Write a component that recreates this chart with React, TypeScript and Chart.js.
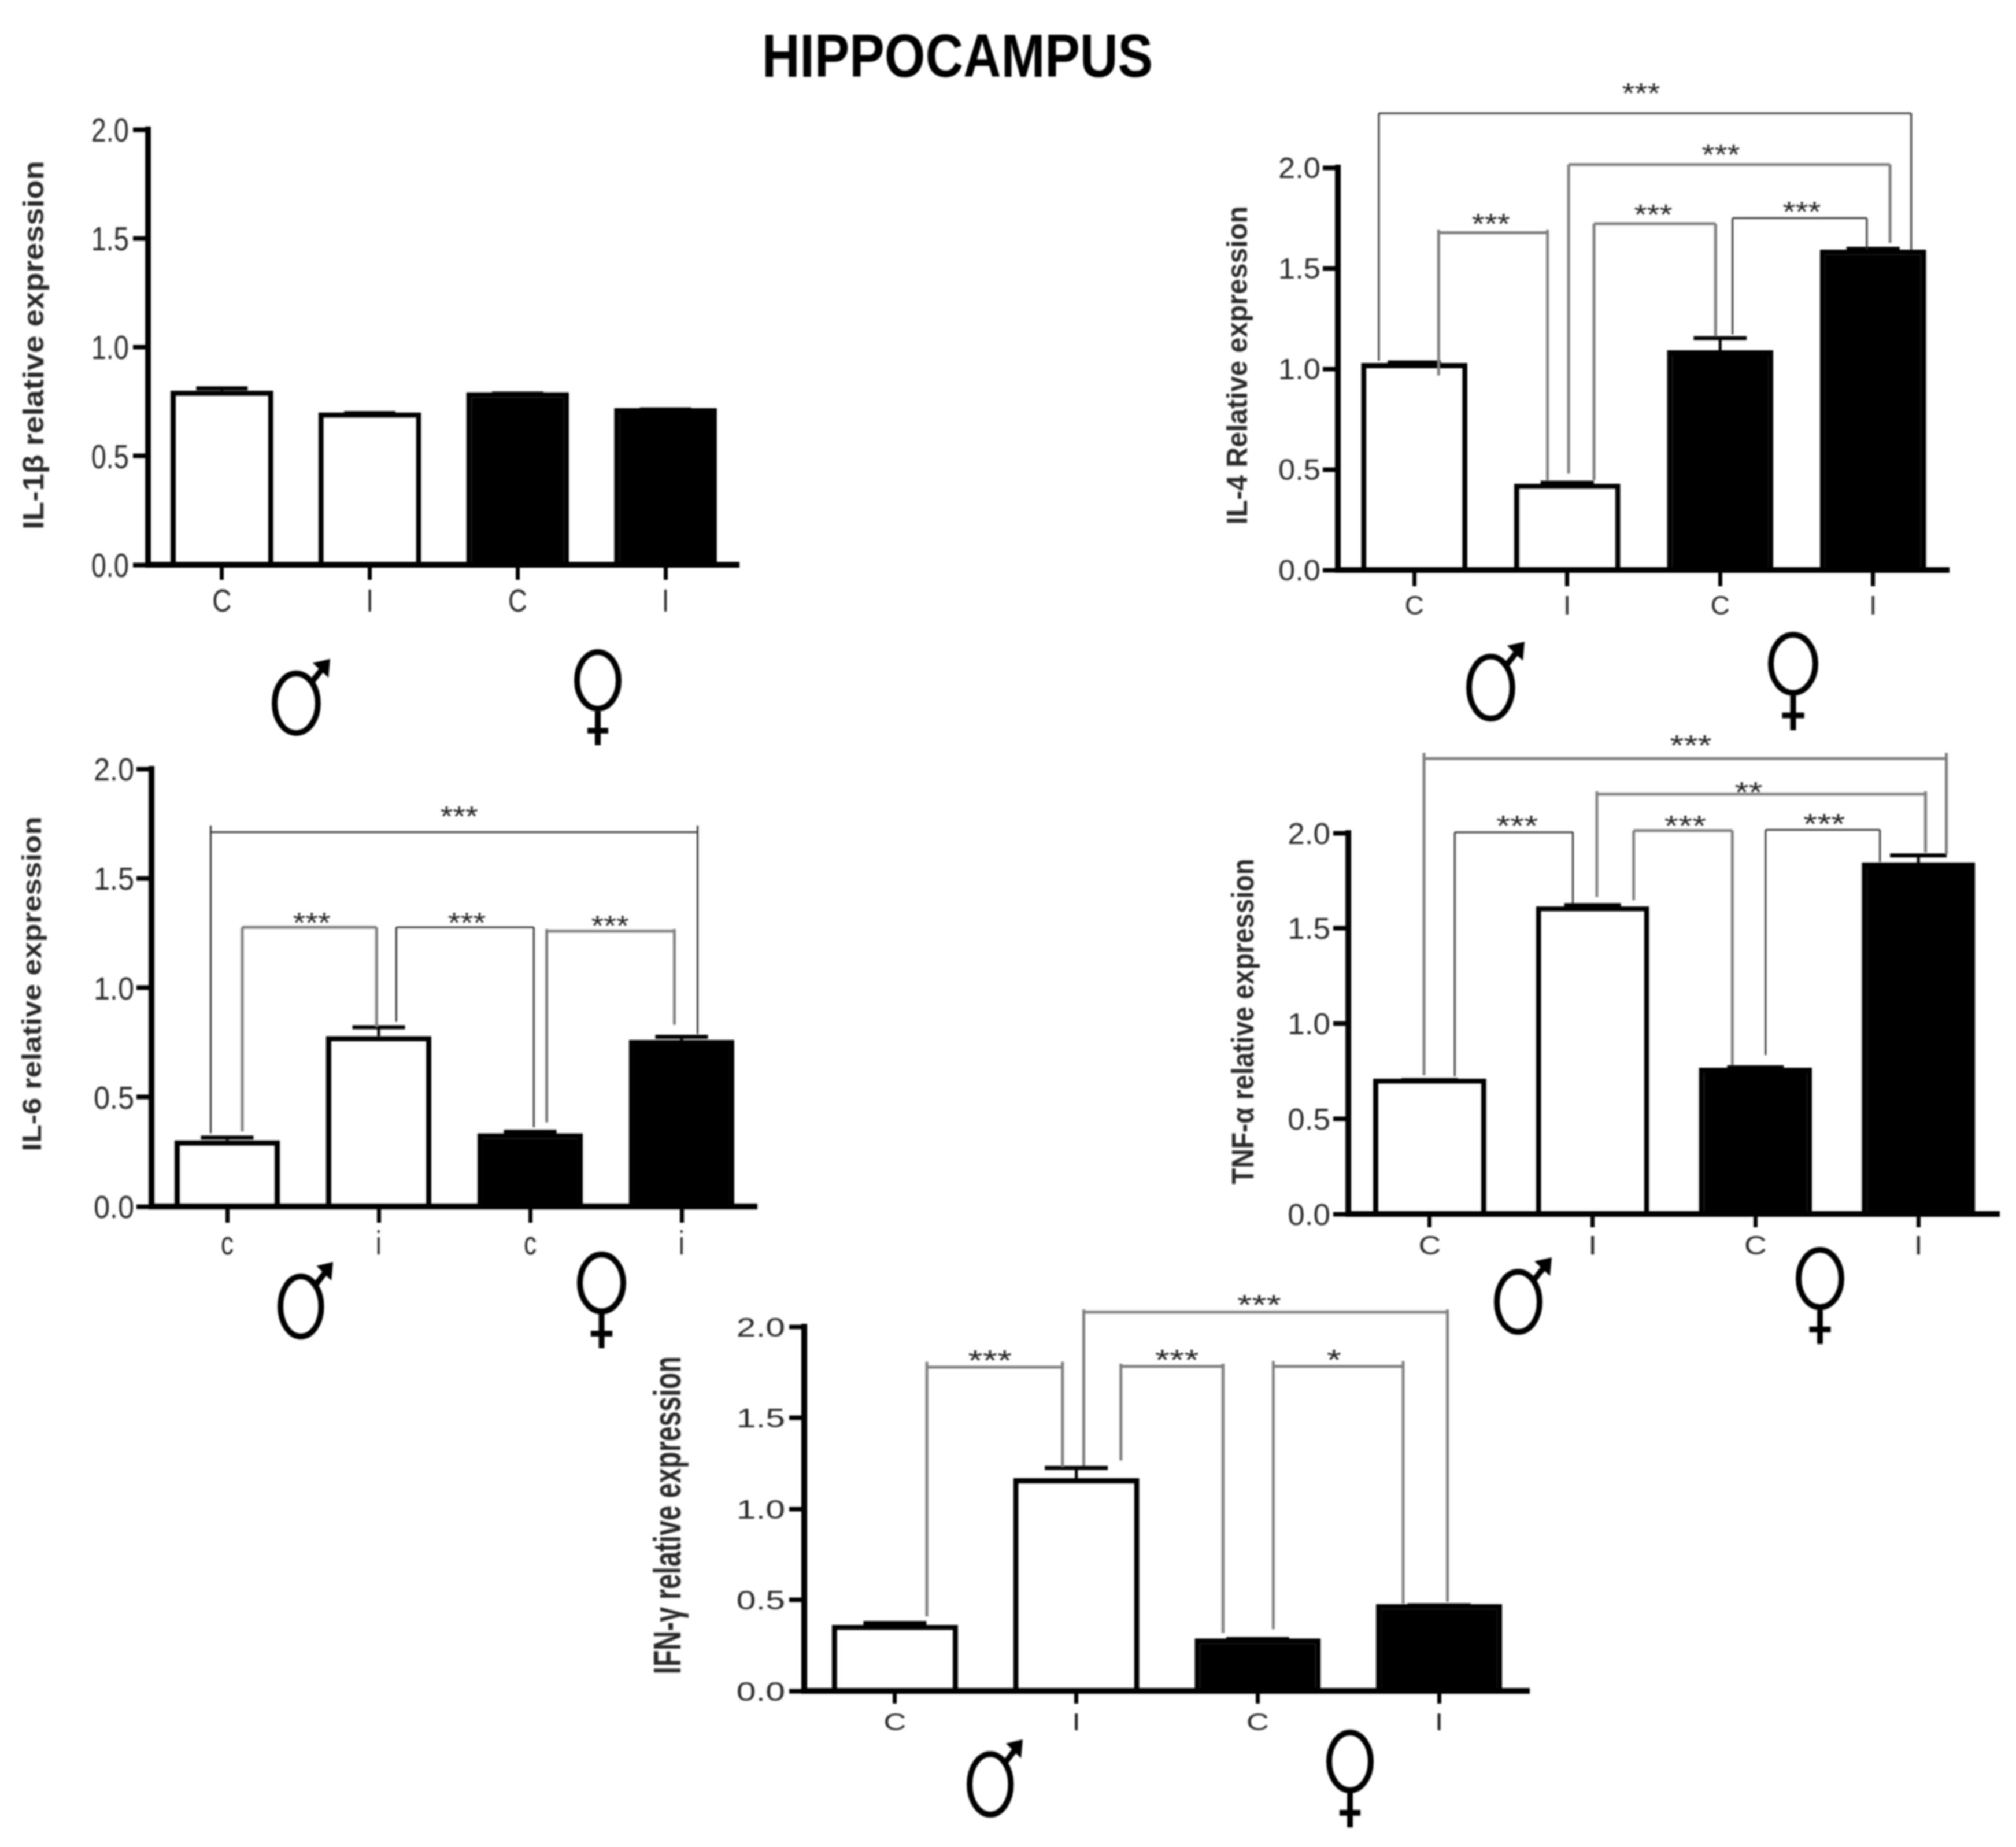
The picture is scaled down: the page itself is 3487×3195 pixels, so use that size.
import { useEffect, useRef } from "react"
import { Chart, registerables } from "chart.js"

Chart.register(...registerables)

const upperLabels = ["C", "I", "C", "I"]
const lowerLabels = ["c", "i", "c", "i"]
const barColors = ["#ffffff", "#ffffff", "#000000", "#000000"]

const il1Values = [0.8, 0.7, 0.793, 0.72]
const il1Errors = [0.02, 0.006, 0.003, 0.003]

const il4Values = [1.029, 0.429, 1.092, 1.593]
const il4Errors = [0.013, 0.015, 0.07, 0.013]

const il6Values = [0.302, 0.779, 0.334, 0.761]
const il6Errors = [0.022, 0.049, 0.017, 0.024]

const tnfValues = [0.711, 1.615, 0.768, 1.845]
const tnfErrors = [0.003, 0.017, 0.013, 0.048]

const ifnValues = [0.3625, 1.168, 0.288, 0.477]
const ifnErrors = [0.022, 0.068, 0.008, 0.004]

// from, to, level, left drop, right drop, mark, mark x, mark level, overshoot above level
type Bracket = [number, number, number, number, number, string, number, number, number]

const il4Brackets: Bracket[] = [
  [-0.232, 3.249, 2.27, 1.04, 1.593, "***", 1.483, 2.402, 0],
  [1.009, 3.111, 2.015, 0.479, 1.626, "***", 2.005, 2.099, 0],
  [1.175, 1.97, 1.721, 0.446, 1.16, "***", 1.562, 1.798, 0],
  [2.081, 2.959, 1.749, 1.171, 1.593, "***", 2.534, 1.813, 0],
  [0.159, 0.871, 1.677, 0.967, 0.446, "***", 0.501, 1.754, 0.015],
]

const il6Brackets: Bracket[] = [
  [-0.109, 3.105, 1.711, 0.334, 0.788, "***", 1.531, 1.813, 0.03],
  [0.099, 0.986, 1.276, 0.343, 0.82, "***", 0.558, 1.327, 0],
  [1.116, 2.024, 1.276, 0.844, 0.362, "***", 1.582, 1.327, 0],
  [2.109, 2.952, 1.258, 0.384, 0.831, "***", 2.527, 1.312, 0.01],
]

const tnfBrackets: Bracket[] = [
  [-0.035, 3.172, 2.391, 0.728, 1.887, "***", 1.603, 2.494, 0.03],
  [1.026, 3.044, 2.204, 1.664, 1.898, "**", 1.958, 2.249, 0.015],
  [0.154, 0.879, 2.004, 0.723, 1.628, "***", 0.537, 2.074, 0],
  [1.252, 1.858, 2.013, 1.647, 0.781, "***", 1.569, 2.074, 0],
  [2.062, 2.764, 2.017, 0.834, 1.849, "***", 2.422, 2.083, 0],
]

const ifnBrackets: Bracket[] = [
  [0.176, 0.924, 1.778, 0.409, 1.229, "***", 0.524, 1.851, 0.03],
  [1.041, 3.046, 2.08, 1.235, 0.489, "***", 2.008, 2.157, 0.015],
  [1.246, 1.809, 1.782, 1.265, 0.318, "***", 1.555, 1.855, 0.015],
  [2.086, 2.802, 1.782, 0.338, 0.479, "*", 2.421, 1.855, 0.03],
]

const thin = { color: "#333333", width: 3 }
const wide = { color: "#808080", width: 5 }

type Box = [number, number, number, number]

interface PanelProps {
  title: string
  titleX: number
  titleY: number
  titleLen: number
  titleSize: number
  labels: string[]
  values: number[]
  errors: number[]
  brackets: Bracket[]
  bracketStyles: { color: string; width: number }[]
  left: number
  right: number
  top: number
  bottom: number
  tickRight: number
  tickSize: number
  tickStretch: number
  labelBase: number
  labelSize: number
  labelStretch: number
  markStretch: number
  xTick: number
  male: Box
  female: Box
}

const FONT = '"Liberation Sans"'
const LEFT_ROOM = 280
const TOP_ROOM = 190
const BOTTOM_ROOM = 340
const CAP_WIDTH = 7
const SYMBOL_LINE = 10

function drawText(
  ctx: CanvasRenderingContext2D,
  text: string,
  x: number,
  base: number,
  size: number,
  stretch: number,
  align: CanvasTextAlign,
  color: string
) {
  ctx.save()
  ctx.translate(x, base)
  ctx.scale(stretch, 1)
  ctx.font = `${size}px ${FONT}`
  ctx.textAlign = align
  ctx.textBaseline = "alphabetic"
  ctx.fillStyle = color
  ctx.fillText(text, 0, 0)
  ctx.restore()
}

function drawMale(ctx: CanvasRenderingContext2D, box: Box, dx: number, dy: number) {
  const [x0, y0, x1, y1] = [box[0] - dx, box[1] - dy, box[2] - dx, box[3] - dy]
  const w = x1 - x0
  const h = y1 - y0
  const rx = 0.42 * w - SYMBOL_LINE / 2
  const ry = 0.425 * h - SYMBOL_LINE / 2
  const cx = x0 + 0.42 * w
  const cy = y1 - 0.425 * h
  ctx.save()
  ctx.strokeStyle = "#000"
  ctx.fillStyle = "#000"
  ctx.lineWidth = SYMBOL_LINE
  ctx.beginPath()
  ctx.ellipse(cx, cy, rx, ry, 0, 0, Math.PI * 2)
  ctx.moveTo(cx + rx * 0.7, cy - ry * 0.7)
  ctx.lineTo(x1 - 0.08 * w, y0 + 0.08 * h)
  ctx.stroke()
  ctx.beginPath()
  ctx.moveTo(x1, y0)
  ctx.lineTo(x1 - 0.3 * w, y0 + 0.05 * h)
  ctx.lineTo(x1 - 0.03 * w, y0 + 0.24 * h)
  ctx.closePath()
  ctx.fill()
  ctx.restore()
}

function drawFemale(ctx: CanvasRenderingContext2D, box: Box, dx: number, dy: number) {
  const [x0, y0, x1, y1] = [box[0] - dx, box[1] - dy, box[2] - dx, box[3] - dy]
  const w = x1 - x0
  const h = y1 - y0
  const cx = x0 + w / 2
  const ringBottom = y0 + 0.65 * h
  ctx.save()
  ctx.strokeStyle = "#000"
  ctx.lineWidth = SYMBOL_LINE
  ctx.beginPath()
  ctx.ellipse(cx, (y0 + ringBottom) / 2, w / 2 - SYMBOL_LINE / 2, (ringBottom - y0) / 2 - SYMBOL_LINE / 2, 0, 0, Math.PI * 2)
  ctx.moveTo(cx, ringBottom)
  ctx.lineTo(cx, y1)
  ctx.moveTo(cx - 0.22 * w, y0 + 0.85 * h)
  ctx.lineTo(cx + 0.22 * w, y0 + 0.85 * h)
  ctx.stroke()
  ctx.restore()
}

function Panel(p: PanelProps) {
  const chartRef = useRef<HTMLCanvasElement>(null)
  const canvasLeft = p.left - LEFT_ROOM
  const canvasTop = p.top - TOP_ROOM
  const canvasWidth = p.right - canvasLeft
  const canvasHeight = p.bottom + BOTTOM_ROOM - canvasTop

  useEffect(() => {
    if (!chartRef.current) return

    const marks = {
      id: "marks",
      afterDatasetsDraw(chart: Chart) {
        const ctx = chart.ctx
        const x = chart.scales.x
        const y = chart.scales.y

        // error bars, the cap's upper edge sits on value + error
        const barWidth = (chart.getDatasetMeta(0).data[0] as any).width
        ctx.save()
        ctx.strokeStyle = "#000"
        p.values.forEach((v, i) => {
          const cx = x.getPixelForValue(i)
          const py = y.getPixelForValue(v + p.errors[i]) + CAP_WIDTH / 2
          ctx.lineWidth = 5
          ctx.beginPath()
          ctx.moveTo(cx, y.getPixelForValue(v))
          ctx.lineTo(cx, py)
          ctx.stroke()
          ctx.lineWidth = CAP_WIDTH
          ctx.beginPath()
          ctx.moveTo(cx - barWidth / 4, py)
          ctx.lineTo(cx + barWidth / 4, py)
          ctx.stroke()
        })

        // significance brackets
        p.brackets.forEach(([from, to, level, dropL, dropR, mark, markX, markY, over], i) => {
          const style = p.bracketStyles[i]
          ctx.strokeStyle = style.color
          ctx.lineWidth = style.width
          ctx.beginPath()
          ctx.moveTo(x.getPixelForValue(from), y.getPixelForValue(dropL))
          ctx.lineTo(x.getPixelForValue(from), y.getPixelForValue(level + over))
          ctx.moveTo(x.getPixelForValue(from), y.getPixelForValue(level))
          ctx.lineTo(x.getPixelForValue(to), y.getPixelForValue(level))
          ctx.moveTo(x.getPixelForValue(to), y.getPixelForValue(level + over))
          ctx.lineTo(x.getPixelForValue(to), y.getPixelForValue(dropR))
          ctx.stroke()
          drawText(ctx, mark, x.getPixelForValue(markX), y.getPixelForValue(markY) + 29, 50, p.markStretch, "center", "#222")
        })
        ctx.restore()

        // tick labels
        y.ticks.forEach((t: any) => {
          drawText(ctx, t.label, p.tickRight - canvasLeft, y.getPixelForValue(t.value) + p.tickSize * 0.358, p.tickSize, p.tickStretch, "right", "#2a2a2a")
        })
        x.ticks.forEach((t: any) => {
          drawText(ctx, t.label, x.getPixelForValue(t.value), p.labelBase - canvasTop, p.labelSize, p.labelStretch, "center", "#2a2a2a")
        })

        // y axis title
        ctx.save()
        ctx.translate(p.titleX - canvasLeft, p.titleY - canvasTop)
        ctx.rotate(-Math.PI / 2)
        ctx.font = `bold ${p.titleSize}px ${FONT}`
        ctx.scale(p.titleLen / ctx.measureText(p.title).width, 1)
        ctx.textAlign = "center"
        ctx.textBaseline = "alphabetic"
        ctx.fillStyle = "#2a2a2a"
        ctx.fillText(p.title, 0, p.titleSize * 0.358)
        ctx.restore()

        drawMale(ctx, p.male, canvasLeft, canvasTop)
        drawFemale(ctx, p.female, canvasLeft, canvasTop)
      },
    }

    const chart = new Chart(chartRef.current, {
      type: "bar",
      data: {
        labels: p.labels,
        datasets: [
          {
            data: p.values,
            backgroundColor: barColors,
            borderColor: "#000000",
            borderWidth: 9,
            borderSkipped: "bottom",
            categoryPercentage: 1,
            barPercentage: 0.695,
          },
        ],
      },
      options: {
        responsive: false,
        animation: false,
        devicePixelRatio: 1,
        layout: { padding: { top: TOP_ROOM, left: 0, right: 0, bottom: 0 } },
        plugins: { legend: { display: false }, title: { display: false }, tooltip: { enabled: false } },
        scales: {
          x: {
            type: "category",
            offset: true,
            ticks: { display: false, autoSkip: false },
            grid: { offset: false, drawOnChartArea: false, drawTicks: true, tickLength: p.xTick, tickWidth: 7, tickColor: "#000" },
            border: { color: "#000", width: 10, z: 1 },
            afterFit: (s: any) => {
              s.height = BOTTOM_ROOM
            },
          },
          y: {
            min: 0,
            max: 2,
            ticks: { display: false, stepSize: 0.5, callback: (v: any) => Number(v).toFixed(1) },
            grid: { drawOnChartArea: false, drawTicks: true, tickLength: 26, tickWidth: 8, tickColor: "#000" },
            border: { color: "#000", width: 10 },
            afterFit: (s: any) => {
              s.width = LEFT_ROOM
            },
          },
        },
      },
      plugins: [marks],
    } as any)

    return () => {
      chart.destroy()
    }
  }, [])

  return (
    <canvas
      ref={chartRef}
      width={canvasWidth}
      height={canvasHeight}
      style={{ position: "absolute", left: canvasLeft, top: canvasTop, width: canvasWidth, height: canvasHeight }}
    />
  )
}

export default function App() {
  return (
    <div style={{ position: "absolute", left: 0, top: 0, width: 3487, height: 3195, overflow: "hidden", background: "#fff", filter: "blur(1.5px)" }}>
      <div
        style={{
          position: "absolute",
          left: 1656,
          top: 44,
          font: `bold 105px/105px ${FONT}`,
          whiteSpace: "nowrap",
          transform: "translateX(-50%) scaleX(0.865)",
        }}
      >
        HIPPOCAMPUS
      </div>
      <Panel
        title="IL-1β relative expression"
        titleX={57} titleY={597} titleLen={638} titleSize={50}
        labels={upperLabels} values={il1Values} errors={il1Errors}
        brackets={[]} bracketStyles={[]}
        left={256} right={1279} top={224} bottom={977}
        tickRight={223} tickSize={58} tickStretch={0.81}
        labelBase={1058} labelSize={56} labelStretch={0.82}
        markStretch={1.1} xTick={26}
        male={[470, 1140, 571, 1273]} female={[993, 1123, 1075, 1289]}
      />
      <Panel
        title="IL-4 Relative expression"
        titleX={2139} titleY={632} titleLen={551} titleSize={50}
        labels={upperLabels} values={il4Values} errors={il4Errors}
        brackets={il4Brackets} bracketStyles={[thin, wide, wide, thin, wide]}
        left={2314} right={3372} top={290} bottom={986}
        tickRight={2284} tickSize={50} tickStretch={1.05}
        labelBase={1063} labelSize={46} labelStretch={1.0}
        markStretch={1.13} xTick={28}
        male={[2536, 1110, 2637, 1248]} female={[3058, 1093, 3145, 1263]}
      />
      <Panel
        title="IL-6 relative expression"
        titleX={54} titleY={1702} titleLen={579} titleSize={47}
        labels={lowerLabels} values={il6Values} errors={il6Errors}
        brackets={il6Brackets} bracketStyles={[thin, wide, thin, wide]}
        left={262} right={1310} top={1330} bottom={2087}
        tickRight={232} tickSize={56} tickStretch={0.9}
        labelBase={2170} labelSize={58} labelStretch={0.76}
        markStretch={1.12} xTick={28}
        male={[480, 2183, 576, 2317]} female={[998, 2165, 1083, 2332]}
      />
      <Panel
        title="TNF-α relative expression"
        titleX={2149} titleY={1767} titleLen={563} titleSize={53}
        labels={upperLabels} values={tnfValues} errors={tnfErrors}
        brackets={tnfBrackets} bracketStyles={[wide, wide, thin, wide, thin]}
        left={2332} right={3459} top={1441} bottom={2100}
        tickRight={2301} tickSize={52} tickStretch={1.02}
        labelBase={2170} labelSize={46} labelStretch={1.17}
        markStretch={1.24} xTick={23}
        male={[2584, 2175, 2684, 2309]} female={[3106, 2157, 3190, 2325]}
      />
      <Panel
        title="IFN-γ relative expression"
        titleX={1153} titleY={2621} titleLen={550} titleSize={67}
        labels={upperLabels} values={ifnValues} errors={ifnErrors}
        brackets={ifnBrackets} bracketStyles={[wide, wide, wide, wide]}
        left={1391} right={2646} top={2295} bottom={2925}
        tickRight={1358} tickSize={47} tickStretch={1.29}
        labelBase={2993} labelSize={42} labelStretch={1.3}
        markStretch={1.3} xTick={22}
        male={[1672, 3009, 1769, 3144]} female={[2294, 2992, 2376, 3161]}
      />
    </div>
  )
}
